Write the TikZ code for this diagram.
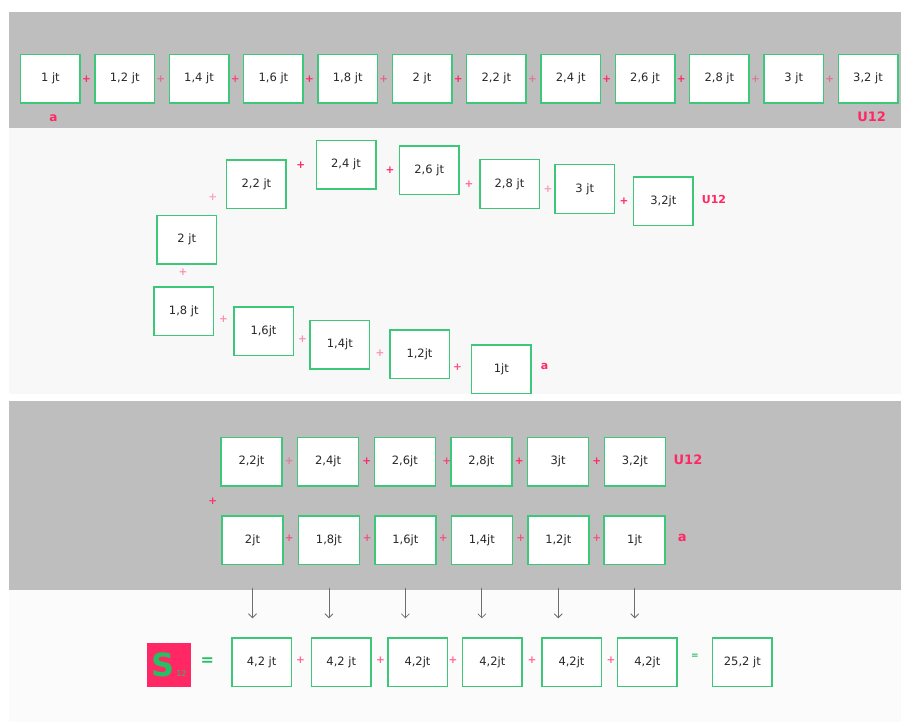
\documentclass[tikz,border=0pt]{standalone}
\usepackage{fontspec}
\setmainfont{DejaVu Sans}
\usepackage{tikz}
\usetikzlibrary{arrows.meta, positioning, calc}
\definecolor{bandGrey}{RGB}{190,190,190}
\definecolor{bandLight}{RGB}{248,248,248}
\definecolor{bandPale}{RGB}{251,251,251}
\definecolor{boxGreen}{RGB}{60,200,120}
\definecolor{sumGreen}{RGB}{40,190,100}
\definecolor{pinkMark}{RGB}{255,40,100}
\definecolor{arrowGrey}{RGB}{110,110,110}
\definecolor{darkText}{RGB}{40,40,40}
\tikzset{
    valbox/.style={rectangle, draw=#1, fill=white, line width=1.5pt, inner sep=0pt,
                   minimum width=59.5pt, minimum height=48.5pt, text=darkText,
                   font=\fontsize{11.5}{13}\selectfont},
    valbox/.default=boxGreen,
    plussign/.style={text=pinkMark, text opacity=#1, inner sep=0pt,
                     font=\fontsize{10.5}{10.5}\selectfont\bfseries},
    plussign/.default=1,
    endlabel/.style={text=pinkMark, inner sep=0pt, font=\fontsize{13}{13}\selectfont\bfseries},
    sumflow/.style={-{Straight Barb[length=4pt, width=8pt]}, line width=0.8pt, draw=arrowGrey,
                    shorten <=22.7pt, shorten >=19pt}
}
\begin{document}
\begin{tikzpicture}[x=1pt, y=-1pt]
    \useasboundingbox (0,0) rectangle (901,722);
    \fill[bandGrey] (9,12) rectangle (901,128);
    \fill[bandLight] (9,128) rectangle (901,394);
    \fill[bandGrey] (9,401) rectangle (901,590);
    \fill[bandPale] (9,590) rectangle (901,722);

    \foreach \lab [count=\i from 0] in {1 jt, {1,2 jt}, {1,4 jt}, {1,6 jt}, {1,8 jt}, 2 jt, {2,2 jt}, {2,4 jt}, {2,6 jt}, {2,8 jt}, 3 jt, {3,2 jt}}
        \node[valbox] (t\i) at (50.4+74.33*\i, 78.8) {\lab};
    \foreach \op [count=\i from 0] in {1, 0.5, 0.8, 1, 0.6, 1, 0.45, 1, 1, 0.45, 0.5}
        \node[plussign=\op] (tp\i) at (86.5+74.33*\i, 79.5) {+};
    \node[endlabel, font=\fontsize{12}{12}\selectfont\bfseries] (ta) at (53.3,118) {a};
    \node[endlabel] (tu) at (871.7,116.7) {U12};

    \foreach \nm/\lab/\px/\py in {m20/2 jt/186.8/239.5, m22/{2,2 jt}/256.4/184.2, m24/{2,4 jt}/346/164.8,
            m26/{2,6 jt}/429.2/170.4, m28/{2,8 jt}/509.5/184, m30/3 jt/584.8/189, m32/{3,2jt}/663.4/201.4,
            m18/{1,8 jt}/183.8/311, m16/{1,6jt}/263.5/331.3, m14/{1,4jt}/339.8/344.5,
            m12/{1,2jt}/419.5/354, m10/1jt/501.3/369}
        \node[valbox] (\nm) at (\px,\py) {\lab};
    \foreach \px/\py/\op [count=\i] in {212.7/197.7/0.4, 300.7/165/1, 390/170.7/1, 469/184.3/0.7, 548/189/0.45,
            624/201/1, 183/272.3/0.5, 223.4/319/0.5, 302.6/339/0.5, 380/353.3/0.5, 457.6/367.3/0.8}
        \node[plussign=\op] (mp\i) at (\px,\py) {+};
    \node[endlabel, font=\fontsize{11}{11}\selectfont\bfseries] (mu) at (714,199) {U12};
    \node[endlabel, font=\fontsize{11}{11}\selectfont\bfseries] (ma) at (544.5,366.5) {a};

    \foreach \lab [count=\i from 0] in {{2,2jt}, {2,4jt}, {2,6jt}, {2,8jt}, 3jt, {3,2jt}}
        \node[valbox, minimum width=61pt] (p\i) at (251.5+76.66*\i, 461.7) {\lab};
    \foreach \lab [count=\i from 0] in {2jt, {1,8jt}, {1,6jt}, {1,4jt}, {1,2jt}, 1jt}
        \node[valbox, minimum width=61pt] (q\i) at (252.5+76.44*\i, 540) {\lab};
    \foreach \px/\op [count=\i] in {289.3/0.4, 366.7/1, 446.7/0.8, 519.3/1, 596.7/1}
        \node[plussign=\op] (pp\i) at (\px,461.7) {+};
    \foreach \px [count=\i] in {289.3, 367.3, 443.3, 520.7, 596.7}
        \node[plussign=0.7] (qp\i) at (\px,538.3) {+};
    \node[plussign=0.9] (pq) at (212.7,501.7) {+};
    \node[endlabel] (pu) at (688,459.3) {U12};
    \node[endlabel] (qa) at (682.3,538) {a};

    \node[fill=pinkMark, minimum width=44.2pt, minimum height=44pt, inner sep=0pt, text=sumGreen] (sum) at (169,664.7)
        {{\fontsize{32}{32}\selectfont\bfseries S}\,{\fontsize{8}{8}\selectfont 12}};
    \node[text=sumGreen, font=\fontsize{16}{16}\selectfont\bfseries] (eq) at (207.4,661.5) {=};
    \foreach \px/\lab [count=\i from 0] in {261.6/{4,2 jt}, 341.3/{4,2 jt}, 417.5/{4,2jt}, 492.4/{4,2jt}, 571.5/{4,2jt}, 647.3/{4,2jt}}
        \node[valbox] (r\i) at (\px, 662.3) {\lab};
    \foreach \px [count=\i] in {300.5, 380.4, 453, 532, 611}
        \node[plussign=0.7] (rp\i) at (\px,660) {+};
    \node[text=sumGreen, font=\fontsize{9}{9}\selectfont\bfseries] (req) at (694.8,656) {=};
    \node[valbox] (total) at (742.4, 662.3) {25,2 jt};
    \foreach \i in {0,...,5}
        \draw[sumflow] (q\i.south) -- (q\i.south |- r\i.north);
\end{tikzpicture}
\end{document}
